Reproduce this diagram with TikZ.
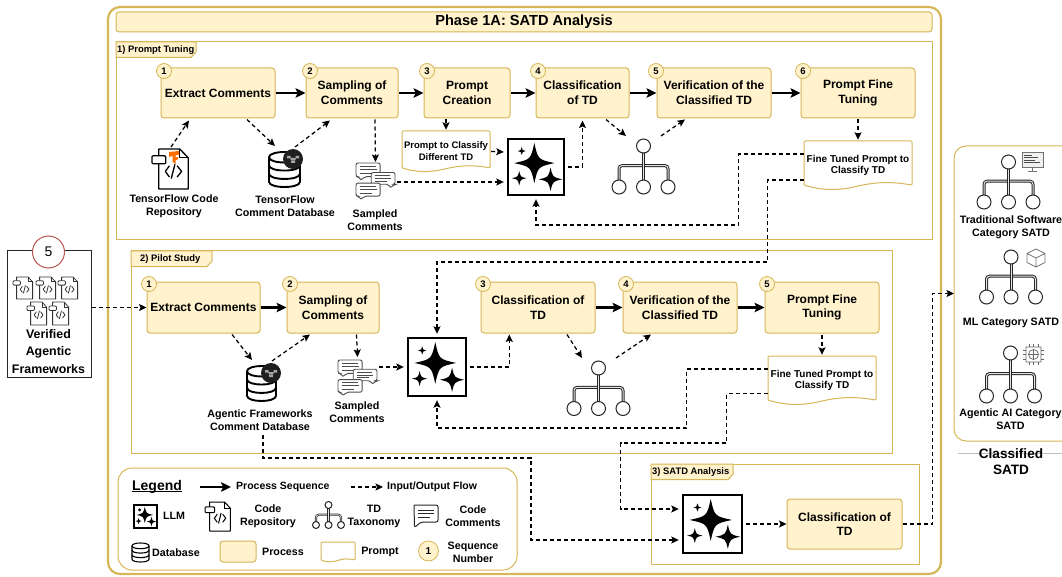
\documentclass[tikz,border=0pt]{standalone}
\usepackage{fontspec}
\setmainfont{Liberation Sans}
\usetikzlibrary{arrows.meta,calc}
\definecolor{gold}{HTML}{D6B656}
\definecolor{goldfill}{HTML}{FFF2CC}
\definecolor{redline}{HTML}{B85450}
\tikzset{
  proc/.style={draw=gold,fill=goldfill,line width=1pt,rounded corners=3pt,align=center,inner sep=0pt,font=\fontsize{12}{14.7}\selectfont\bfseries},
  secframe/.style={draw=gold,line width=1pt,inner sep=0pt},
  tabtxt/.style={anchor=west,inner sep=0pt,font=\fontsize{9.4}{11}\selectfont\bfseries},
  lbl/.style={align=center,inner sep=0pt,font=\fontsize{10.7}{13.3}\selectfont\bfseries},
  doctxt/.style={align=center,inner sep=0pt,font=\fontsize{10}{11.8}\selectfont\bfseries},
  seqnum/.style={circle,draw=gold,fill=goldfill,line width=.8pt,inner sep=0pt,minimum size=15pt,font=\fontsize{9.5}{11}\selectfont\bfseries},
  seqflow/.style={line width=2.1pt,-{Stealth[length=10pt,width=9.5pt,inset=2.2pt]}},
  ioflow/.style={line width=1.25pt,dash pattern=on 4pt off 3pt,-{Stealth[length=7.5pt,width=7pt,inset=1.5pt]}},
  hold/.style={inner sep=0pt,outer sep=0pt},
}
% process box
\newcommand\Proc[6]{\node[proc,minimum width={(#4-#2)*1pt},minimum height={(#5-#3)*1pt}] (#1) at ({(#2+#4)/2},{(#3+#5)/2}) {#6};}
% wavy document
\newcommand\Doc[6]{%
  \pgfmathsetmacro\dw{#4-#2}\pgfmathsetmacro\dh{#5-#3}%
  \begin{scope}[shift={(#2,#3)},x=\dw pt,y=-\dh pt]
    \draw[draw=gold,fill=white,line width=1pt,rounded corners=1pt] (0,0) -- (1,0) -- (1,.9) .. controls (.8,.82) and (.65,.84) .. (.48,.93) .. controls (.3,1.02) and (.15,1) .. (0,.9) -- cycle;
  \end{scope}
  \node[doctxt,minimum width={(#4-#2)*1pt},minimum height={(#5-#3)*1pt}] (#1) at ({(#2+#4)/2},{(#3+#5)/2}) {#6};}
% sparkle
\newcommand\Sparkle[3]{\fill[shift={(#1,#2)},scale=#3] (0,-1) .. controls (.18,-.18) .. (1,0) .. controls (.18,.18) .. (0,1) .. controls (-.18,.18) .. (-1,0) .. controls (-.18,-.18) .. (0,-1) -- cycle;}
\newcommand\Llm[6]{%
  \node[draw=black,fill=white,line width=#6pt,inner sep=0pt,minimum width={(#4-#2)*1pt},minimum height={(#5-#3)*1pt}] (#1) at ({(#2+#4)/2},{(#3+#5)/2}) {};
  \pgfmathsetmacro\dw{#4-#2}\pgfmathsetmacro\dh{#5-#3}%
  \begin{scope}[shift={(#2,#3)},x=\dw pt,y=-\dh pt]
    \Sparkle{.47}{.43}{.36}\Sparkle{.245}{.215}{.07}\Sparkle{.2}{.70}{.13}\Sparkle{.76}{.72}{.21}
  \end{scope}}
% database
\newcommand\Db[6]{%
  \node[hold,minimum width={(#4-#2)*1pt},minimum height={(#5-#3)*1pt}] (#1) at ({(#2+#4)/2},{(#3+#5)/2}) {};
  \pgfmathsetmacro\dw{#4-#2}\pgfmathsetmacro\dh{#5-#3}%
  \begin{scope}[shift={(#2,#3)},x=\dw pt,y=-\dh pt,line width=#6pt]
    \draw[fill=white] (0,.15) .. controls (0,-.05) and (1,-.05) .. (1,.15) -- (1,.85) .. controls (1,1.05) and (0,1.05) .. (0,.85) -- cycle;
    \draw (0,.15) .. controls (0,.35) and (1,.35) .. (1,.15);
    \draw (0,.38) .. controls (0,.58) and (1,.58) .. (1,.38);
    \draw (0,.62) .. controls (0,.82) and (1,.82) .. (1,.62);
  \end{scope}}
\newcommand\Badge[2]{%
  \fill[black!88] (#1,#2) circle (10);
  \fill[black!35] (#1-6,#2-3) rectangle (#1-2.5,#2-.5) (#1+2.5,#2-3) rectangle (#1+6,#2-.5) (#1-2.5,#2-1) rectangle (#1+2.5,#2+1) (#1-2,#2+1.5) rectangle (#1+2,#2+4);}
% code file
\newcommand\Cfile[7]{%
  \node[hold,minimum width={(#4-#2)*1pt},minimum height={(#5-#3)*1pt}] (#1) at ({(#2+#4)/2},{(#3+#5)/2}) {};
  \pgfmathsetmacro\dw{#4-#2}\pgfmathsetmacro\dh{#5-#3}%
  \begin{scope}[shift={(#2,#3)},x=\dw pt,y=-\dh pt,line width=#6pt,draw=#7,line join=round]
    \draw[fill=white] (.18,0) -- (.75,0) -- (.98,.22) -- (.98,1) -- (.18,1) -- cycle;
    \draw (.75,0) -- (.75,.22) -- (.98,.22);
    \draw[fill=white,rounded corners=1pt] (0,.17) rectangle (.37,.37);
    \draw (.47,.42) -- (.36,.56) -- (.47,.70) (.62,.38) -- (.52,.74) (.68,.42) -- (.80,.56) -- (.68,.70);
  \end{scope}}
% speech bubbles
\newcommand\Bubble[5]{%
  \draw[fill=white,rounded corners=2pt] (#1,#2) -- (#3,#2) -- (#3,#4) -- (#5+.1,#4) -- (#5,#4+.1) -- (#5-.04,#4) -- (#1,#4) -- cycle;
  \draw[rounded corners=0pt] ({#1+.09},{#2+.08}) -- ({#3-.12},{#2+.08}) ({#1+.09},{(#2+#4)/2}) -- ({#3-.09},{(#2+#4)/2}) ({#1+.09},{#4-.08}) -- ({#3-.2},{#4-.08});}
\newcommand\Cmt[5]{%
  \node[hold,minimum width={(#4-#2)*1pt},minimum height={(#5-#3)*1pt}] (#1) at ({(#2+#4)/2},{(#3+#5)/2}) {};
  \pgfmathsetmacro\dw{#4-#2}\pgfmathsetmacro\dh{#5-#3}%
  \begin{scope}[shift={(#2,#3)},x=\dw pt,y=-\dh pt,line width=.9pt,draw=black!70]
    \Bubble{0}{0}{.62}{.36}{.12}
    \Bubble{.39}{.25}{1}{.56}{.88}
    \Bubble{0}{.53}{.62}{.87}{.12}
  \end{scope}}
% taxonomy
\newcommand\Taxo[7]{%
  \node[hold,minimum width={(2*#5+2*#6)*1pt},minimum height={(#4-#3+2*#6)*1pt}] (#1) at (#2,{(#3+#4)/2}) {};
  \pgfmathsetmacro\by{#3+(#4-#3)*.48}%
  \draw[draw=black!85,line width=#7pt,double=black!10,double distance=#7pt,rounded corners=3pt] (#2-#5,#4) -- (#2-#5,\by) -- (#2+#5,\by) -- (#2+#5,#4);
  \draw[draw=black!85,line width=#7pt,double=black!10,double distance=#7pt] (#2,#3) -- (#2,#4);
  \draw[draw=black!85,line width=1pt,fill=white] (#2,#3) circle (#6) (#2-#5,#4) circle (#6) (#2,#4) circle (#6) (#2+#5,#4) circle (#6);}
\newcommand\Sec[7]{%
  \node[secframe,minimum width={(#4-#2)*1pt},minimum height={(#5-#3)*1pt}] (#1) at ({(#2+#4)/2},{(#3+#5)/2}) {};
  \draw[draw=gold,fill=goldfill,line width=1pt] (#2,#3) -- (#6,#3) -- (#6,#3+10) -- (#6-5,#3+15.5) -- (#2,#3+15.5) -- cycle;
  \node[tabtxt] (#1tab) at (#2+1,#3+8) {#7};}
\begin{document}
\begin{tikzpicture}[x=1pt,y=-1pt]
\useasboundingbox (0,0) rectangle (1062,577);
% outer frame and title
\node[draw=gold,line width=2.2pt,rounded corners=12pt,inner sep=0pt,minimum width=833pt,minimum height=567pt] (phase) at (524.5,290.5) {};
\node[draw=gold,fill=goldfill,line width=1pt,rounded corners=3pt,inner sep=0pt,minimum width=816pt,minimum height=20pt,font=\fontsize{14.6}{17}\selectfont\bfseries] (title) at (524,22) {Phase 1A: SATD Analysis};
% sections
\Sec{secA}{116}{42}{932}{240}{196}{1) Prompt Tuning}
\Sec{secB}{131}{251}{892}{453}{212}{\hspace{8pt}2) Pilot Study}
\Sec{secC}{651}{464}{919}{564}{733}{3) SATD Analysis}
% section 1
\Proc{exA}{161}{68}{275}{118}{Extract Comments}
\Proc{saA}{306}{68}{398}{118}{Sampling of\\Comments}
\Proc{pcA}{424}{68}{510}{118}{Prompt\\Creation}
\Proc{clA}{536}{68}{629}{118}{Classification\\of TD}
\Proc{veA}{657}{68}{771}{118}{Verification of the\\Classified TD}
\Proc{fiA}{801}{68}{915}{118}{Prompt Fine\\Tuning}
\node[seqnum] (n1) at (164,71) {1};
\node[seqnum] (n2) at (310,71) {2};
\node[seqnum] (n3) at (427,71) {3};
\node[seqnum] (n4) at (538,71) {4};
\node[seqnum] (n5) at (656,71) {5};
\node[seqnum] (n6) at (803,71) {6};
\Cfile{cfA}{152}{149}{189}{189}{1.3}{black}
\fill[orange!85!red] (169,152) -- (179,151) -- (179,154.5) -- (175.5,155.5) -- (175.5,157.5) -- (178,157) -- (178,159.5) -- (175.5,160) -- (175.5,164) -- (172.5,162) -- (172.5,156) -- (169,157) -- cycle;
\Db{dbA}{269}{152}{300}{187}{1.9}
\Badge{293}{159}
\Cmt{cmA}{356}{163}{395}{201}
\Doc{dcA}{402}{131}{490}{172}{\fontsize{9.5}{11.6}\selectfont Prompt to Classify\\\fontsize{9.5}{11.6}\selectfont Different TD}
\Llm{llA}{508}{139}{564}{195}{2.4}
\Taxo{axA}{643.5}{146}{187}{24.5}{7}{1}
\Doc{dcB}{804}{141}{912}{190}{Fine Tuned Prompt to\\Classify TD}
\node[lbl] (lbA) at (174,206.5) {TensorFlow Code\\Repository};
\node[lbl] (lbB) at (285,206.5) {TensorFlow\\Comment Database};
\node[lbl] (lbC) at (375,220.5) {Sampled\\Comments};
\draw[seqflow] (exA.east) -- (saA.west);
\draw[seqflow] (saA.east) -- (pcA.west);
\draw[seqflow] (pcA.east) -- (clA.west);
\draw[seqflow] (clA.east) -- (veA.west);
\draw[seqflow] (veA.east) -- (fiA.west);
\draw[ioflow] ([shift={(.5,-2)}]cfA.north) -- ([shift={(-29,2)}]exA.south);
\draw[ioflow] ([shift={(29,1)}]exA.south) -- ([shift={(-9.5,-6)}]dbA.north);
\draw[ioflow] ([shift={(10.5,-5)}]dbA.north) -- ([shift={(-22,2)}]saA.south);
\draw[ioflow] ([shift={(23,1)}]saA.south) -- ([shift={(0,-1)}]cmA.north);
\draw[ioflow] ([shift={(-21,1)}]pcA.south) -- ([shift={(0,-1)}]dcA.north);
\draw[ioflow] ([shift={(1,0)}]dcA.east) -- ([shift={(-3,0.5)}]llA.north west |- dcA.east);
\draw[ioflow] ([shift={(2,0)}]cmA.east) -- ([shift={(-3,0)}]llA.west |- cmA.east);
\draw[ioflow] ([xshift=3]llA.east) -| ([shift={(0,2)}]clA.south);
\draw[ioflow] ([shift={(23.5,1)}]clA.south) -- ([shift={(-17.5,-3)}]axA.north);
\draw[ioflow] ([shift={(17.5,-3)}]axA.north) -- ([shift={(-29,1)}]veA.south);
\draw[ioflow] ([shift={(0,1)}]fiA.south) -- ([shift={(0,-1)}]dcB.north);
\draw[ioflow] ([shift={(0,-11.5)}]dcB.west) -- ++(-65,0) -- ++(0,71) -| ([shift={(0,3)}]llA.south);
% section 2
\Proc{exB}{147}{282}{260}{333}{Extract Comments}
\Proc{saB}{287}{282}{379}{333}{Sampling of\\Comments}
\Proc{clB}{481}{282}{595}{333}{Classification of\\TD}
\Proc{veB}{623}{282}{737}{333}{Verification of the\\Classified TD}
\Proc{fiB}{765}{282}{879}{333}{Prompt Fine\\Tuning}
\node[seqnum] (m1) at (149,284) {1};
\node[seqnum] (m2) at (290,284) {2};
\node[seqnum] (m3) at (483,284) {3};
\node[seqnum] (m4) at (626,284) {4};
\node[seqnum] (m5) at (767,284) {5};
\Db{dbB}{247}{366}{276}{401}{1.9}
\Badge{271}{373}
\Cmt{cmB}{338}{360}{377}{397}
\Llm{llB}{408}{338}{466}{396}{2.4}
\Taxo{axB}{598.5}{368}{408.5}{24.5}{7}{1}
\Doc{dcC}{768}{356}{876}{405}{Fine Tuned Prompt to\\Classify TD}
\node[lbl] (lbD) at (260,420.5) {Agentic Frameworks\\Comment Database};
\node[lbl] (lbE) at (357,412.5) {Sampled\\Comments};
% agentic frameworks box
\node[draw=black!85,line width=1pt,fill=white,inner sep=0pt,minimum width=84pt,minimum height=126pt] (fw) at (49,314) {};
\node[circle,draw=redline,fill=white,line width=1pt,inner sep=0pt,minimum size=32pt,font=\fontsize{14}{16}\selectfont] (fwnum) at (48.5,252) {5};
\Cfile{fa}{13}{277}{33}{299}{.8}{black!80}
\Cfile{fb}{36}{277}{56}{299}{.8}{black!80}
\Cfile{fc}{58}{277}{78}{299}{.8}{black!80}
\Cfile{fd}{27}{302}{47}{325}{.8}{black!80}
\Cfile{fe}{49}{302}{69}{325}{.8}{black!80}
\node[align=center,inner sep=0pt,font=\fontsize{12.4}{17.7}\selectfont\bfseries] (fwt) at (48.5,351.5) {Verified\\Agentic\\Frameworks};
\draw[ioflow] ([shift={(0,-6.5)}]fw.east) -- (exB.west);
\draw[seqflow] (exB.east) -- (saB.west);
\draw[seqflow] (clB.east) -- (veB.west);
\draw[seqflow] (veB.east) -- (fiB.west);
\draw[ioflow] ([shift={(28.5,1)}]exB.south) -- ([shift={(-9.5,-6)}]dbB.north);
\draw[ioflow] ([shift={(10.5,-5)}]dbB.north) -- ([shift={(-23,1)}]saB.south);
\draw[ioflow] ([shift={(23.5,1)}]saB.south) -- ([shift={(0,-3)}]cmB.north);
\draw[ioflow] ([shift={(2,-11.5)}]cmB.east) -- ([xshift=-3]llB.west);
\draw[ioflow] ([xshift=3]llB.east) -| ([shift={(-28.7,1)}]clB.south);
\draw[ioflow] ([shift={(29,1)}]clB.south) -- ([shift={(-16.5,-3)}]axB.north);
\draw[ioflow] ([shift={(17.5,-3)}]axB.north) -- ([shift={(-29,1)}]veB.south);
\draw[ioflow] ([shift={(0,1)}]fiB.south) -- ([shift={(0,-1)}]dcC.north);
\draw[ioflow] ([shift={(0,14.5)}]dcB.west) -- ++(-36,0) -- ++(0,82) -| ([shift={(0,-3)}]llB.north);
\draw[ioflow] ([shift={(0,-11.5)}]dcC.west) -- ++(-81,0) -- ++(0,59) -| ([shift={(0,3)}]llB.south);
% section 3
\Llm{llC}{683}{495}{742}{553}{2.4}
\Proc{clC}{787}{499}{902}{549}{Classification of\\TD}
\coordinate (turn) at (531,458);
\draw[ioflow] ([shift={(0,13)}]dcC.west) -- ++(-41,0) -- ++(0,49.5) -- ++(-106,0) |- ([shift={(-3,-15)}]llC.west);
\draw[ioflow] ([shift={(3,4)}]lbD.south) |- (turn) |- ([shift={(-3,16)}]llC.west);
\draw[ioflow] ([xshift=3]llC.east) -- (clC.west);
% classified SATD
\node[hold,minimum width=108pt,minimum height=295pt] (cat) at (1008,293.5) {};
\draw[draw=gold,line width=1pt,rounded corners=12pt] (1070,146) -- (954,146) -- (954,441) -- (1070,441);
\draw[ioflow] (clC.east) -- ++(30,0) |- (cat.west);
\Taxo{axC}{1008.5}{162}{202}{24.5}{7}{1}
\Taxo{axD}{1011}{257}{297}{24.5}{7}{1}
\Taxo{axE}{1010.5}{353}{396}{24}{7}{1}
\node[lbl] (lbF) at (1011,227.5) {Traditional Software\\Category SATD};
\node[lbl] (lbG) at (1011,323) {ML Category SATD};
\node[lbl] (lbH) at (1010.5,419.5) {Agentic AI Category\\SATD};
% monitor
\draw[black!55,line width=.8pt,fill=black!6] (1022,152) rectangle (1043,167);
\draw[black!70,line width=.9pt] (1024,155) -- (1032,155) (1024,157.5) -- (1038,157.5) (1024,160) -- (1035,160) (1024,162.5) -- (1040,162.5);
\draw[black!55,line width=.8pt] (1032.5,167) -- (1032.5,171) (1028,171.5) -- (1037,171.5);
% cube
\draw[black!55,line width=.7pt,line join=round] (1036,249) -- (1045,253.5) -- (1045,262.5) -- (1036,267) -- (1027,262.5) -- (1027,253.5) -- cycle (1027,253.5) -- (1036,258) -- (1045,253.5) (1036,258) -- (1036,267);
% chip
\draw[black!60,line width=.7pt] (1026,347) rectangle (1041,362) (1033.5,354.5) circle (5) (1033.5,349.5) -- (1033.5,359.5) (1029,354.5) -- (1038,354.5);
\foreach \t in {1029,1033.5,1038}{\draw[black!60,line width=.6pt] (\t,344) -- (\t,347) (\t,362) -- (\t,365);}
\foreach \t in {350,354.5,359}{\draw[black!60,line width=.6pt] (1023,\t) -- (1026,\t) (1041,\t) -- (1044,\t);}
\coordinate (catL) at (958,453);\coordinate (catR) at (1062,453);
\draw[black!25,line width=.6pt] (catL) -- (catR);
\node[align=center,inner sep=0pt,font=\fontsize{13.6}{16.6}\selectfont\bfseries] (catT) at (1011,461.5) {Classified\\SATD};
% legend
\node[draw=gold,line width=1pt,rounded corners=14pt,inner sep=0pt,minimum width=399pt,minimum height=102pt] (leg) at (317.5,519) {};
\node[inner sep=0pt,font=\fontsize{14}{16}\selectfont\bfseries] (legT) at (157,487) {Legend};
\draw[line width=.9pt] ([shift={(0,1.2)}]legT.base west) -- ([shift={(0,1.2)}]legT.base east);
\node[lbl,anchor=west,font=\fontsize{10.5}{13}\selectfont\bfseries] (legA) at (236,487) {Process Sequence};
\node[lbl,anchor=west,font=\fontsize{10.5}{13}\selectfont\bfseries] (legB) at (387,487) {Input/Output Flow};
\coordinate (legAs) at (200,487);\coordinate (legBs) at (351,487);
\draw[seqflow] (legAs) -- ([xshift=-5]legA.west);
\draw[ioflow] (legBs) -- ([xshift=-4]legB.west);
\Llm{legL}{134}{505}{157}{528}{1.2}
\node[lbl] (legLt) at (174,516) {LLM};
\Cfile{legC}{205}{502}{231}{531}{1}{black}
\node[lbl] (legCt) at (268,516.5) {Code\\Repository};
\Taxo{legX}{328.5}{505}{525}{12.5}{3.5}{.7}
\node[lbl] (legXt) at (374,516.5) {TD\\Taxonomy};
\draw[black!85,line width=1pt,rounded corners=2pt] (414,505) -- (438,505) -- (438,522) -- (421,522) -- (414.5,527.5) -- (414,505);
\draw[black!85,line width=.9pt] (418,510) -- (434,510) (418,513.5) -- (434,513.5) (418,517) -- (430,517);
\node[lbl] (legMt) at (473,516.5) {Code\\Comments};
\Db{legD}{132}{543}{149}{562}{1.1}
\node[lbl] (legDt) at (176,553) {Database};
\Proc{legP}{220}{541}{256}{562}{}
\node[lbl] (legPt) at (283,552) {Process};
\Doc{legQ}{321}{542}{355}{562}{}
\node[lbl] (legQt) at (380,552) {Prompt};
\node[circle,draw=gold,fill=goldfill,line width=.8pt,inner sep=0pt,minimum size=20pt,font=\fontsize{10}{12}\selectfont\bfseries] (legN) at (428.5,551) {1};
\node[lbl] (legNt) at (473,552.5) {Sequence\\Number};
\end{tikzpicture}
\end{document}
